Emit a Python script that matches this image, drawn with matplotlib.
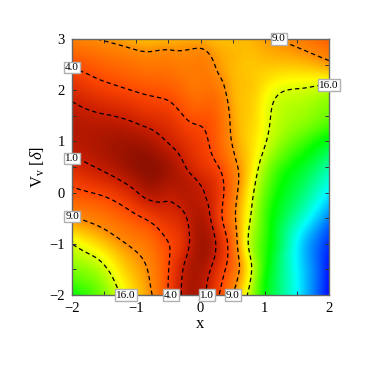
import numpy as np
import matplotlib
matplotlib.use("Agg")
import matplotlib.pyplot as plt
import matplotlib.tri as mtri
from matplotlib.colors import LinearSegmentedColormap

# grid of sqrt(chi^2)-like values
x_nodes = [-2, -1.5, -1, -0.75, -0.5, -0.25, 0, 0.25, 0.5, 0.75, 1, 1.5, 2]
y_nodes = [-2, -1.5, -1, -0.5, 0, 0.5, 1, 1.5, 2, 2.5, 3]
row_m20 = [5.2, 4.5, 3.5, 3.0, 2.0, 0.8, 0.7, 1.8, 3.0, 4.1, 5.2, 7.0, 8.9]
row_m15 = [4.5, 4.1, 3.25, 2.85, 2.03, 0.9, 0.55, 1.4, 2.5, 3.75, 5.0, 7.0, 8.8]
row_m10 = [4.0, 3.45, 2.85, 2.55, 2.02, 1.35, 0.45, 1.05, 2.5, 4.05, 4.9, 7.0, 8.6]
row_m05 = [3.05, 2.7, 2.15, 1.8, 1.45, 1.1, 0.6, 1.5, 2.8, 3.9, 4.8, 6.4, 8.0]
row_p00 = [2.2, 1.85, 1.05, 0.65, 0.8, 0.7, 0.9, 1.5, 2.65, 3.7, 4.6, 5.8, 7.1]
row_p05 = [1.3, 0.85, 0.25, 0.15, 0.45, 0.95, 1.45, 1.9, 2.75, 3.5, 4.3, 5.3, 6.4]
row_p10 = [0.75, 0.55, 0.45, 0.65, 1.05, 1.45, 1.8, 2.3, 3.05, 3.5, 3.95, 4.7, 5.4]
row_p15 = [0.75, 0.95, 1.25, 1.45, 1.6, 2.03, 2.2, 2.4, 3.15, 3.45, 3.85, 4.3, 4.6]
row_p20 = [1.3, 1.75, 2.05, 2.15, 2.25, 2.5, 2.65, 2.7, 3.25, 3.4, 3.7, 4.03, 4.2]
row_p25 = [2.1, 2.4, 2.65, 2.7, 2.7, 2.8, 2.75, 3.05, 3.3, 3.4, 3.4, 3.4, 3.15]
row_p30 = [2.85, 3.05, 3.3, 3.35, 3.3, 3.25, 3.25, 3.35, 3.35, 3.3, 3.15, 2.85, 2.4]
rows = [row_m20, row_m15, row_m10, row_m05, row_p00, row_p05, row_p10,
        row_p15, row_p20, row_p25, row_p30]

contour_levels = [1, 2, 3, 4]
x_ticks = [-2, -1, 0, 1, 2]
y_ticks = [-2, -1, 0, 1, 2, 3]
label_texts = ["4.0", "1.0", "9.0", "16.0", "4.0", "1.0", "9.0", "9.0", "16.0"]
label_x = [-2, -2, -2, -1.16, -0.46, 0.1, 0.5, 1.22, 2]
label_y = [2.45, 0.67, -0.47, -2, -2, -2, -2, 3, 2.1]

plt.rcParams["font.family"] = ["Liberation Serif", "DejaVu Serif"]
plt.rcParams["mathtext.fontset"] = "custom"
plt.rcParams["mathtext.rm"] = "Liberation Serif"
plt.rcParams["mathtext.it"] = "Liberation Serif:italic"

cmap = LinearSegmentedColormap.from_list("map", [
    (0 / 9, (0.52, 0.05, 0.0)),
    (1 / 9, (0.80, 0.12, 0.0)),
    (2 / 9, (1.0, 0.28, 0.0)),
    (3 / 9, (1.0, 0.55, 0.0)),
    (3.8 / 9, (1.0, 1.0, 0.0)),
    (5.2 / 9, (0.0, 1.0, 0.0)),
    (7 / 9, (0.0, 1.0, 1.0)),
    (9 / 9, (0.0, 0.0, 1.0)),
])

X, Y = np.meshgrid(x_nodes, y_nodes)
Z = np.array(rows)
tri = mtri.Triangulation(X.ravel(), Y.ravel())
interp = mtri.CubicTriInterpolator(tri, Z.ravel(), kind="min_E")
xf = np.linspace(-2, 2, 261)
yf = np.linspace(-2, 3, 261)
XF, YF = np.meshgrid(xf, yf)
ZF = np.ma.filled(interp(XF, YF), np.nan)

# light smoothing so the surface has no kinks at the coarse nodes
kernel = np.ones(9) / 9
def smooth(a):
    p = np.pad(a, ((4, 4), (4, 4)), mode="reflect", reflect_type="odd")
    p = np.apply_along_axis(lambda v: np.convolve(v, kernel, mode="valid"), 0, p)
    p = np.apply_along_axis(lambda v: np.convolve(v, kernel, mode="valid"), 1, p)
    return p
ZF = smooth(ZF)

fig = plt.figure(figsize=(3.68, 3.68), dpi=100)
ax = fig.add_axes([72 / 368, 1 - 295 / 368, 257 / 368, 256 / 368])
ax.pcolormesh(XF, YF, ZF, cmap=cmap, vmin=0, vmax=9, shading="gouraud", rasterized=True)
ax.contour(XF, YF, ZF, levels=contour_levels, colors="black", linewidths=0.9,
           linestyles=[(0, (3.5, 2.5))])

for t, lx, ly in zip(label_texts, label_x, label_y):
    ax.text(lx, ly, t, ha="center", va="center", fontsize=8, clip_on=False, zorder=5,
            bbox=dict(boxstyle="square,pad=0.1", fc="white", ec="#b0b0b0", lw=1.0))

ax.set_xlim(-2, 2)
ax.set_ylim(-2, 3)
ax.set_xticks(x_ticks)
ax.set_yticks(y_ticks)
ax.set_xticks(np.arange(-2, 2.01, 0.5), minor=True)
ax.set_yticks(np.arange(-2, 3.01, 0.5), minor=True)
ax.tick_params(which="both", direction="in", top=True, right=True, length=3,
               width=0.7, color="#333333", labelsize=10.5, pad=5)
for s in ax.spines.values():
    s.set_color("#666666")
    s.set_linewidth(1.0)
ax.set_xlabel("x", fontsize=12, labelpad=1)
ax.set_ylabel(r"V$_{\mathrm{v}}$ [$\delta$]", fontsize=12, labelpad=2)
fig.savefig("out.png", dpi=100)
